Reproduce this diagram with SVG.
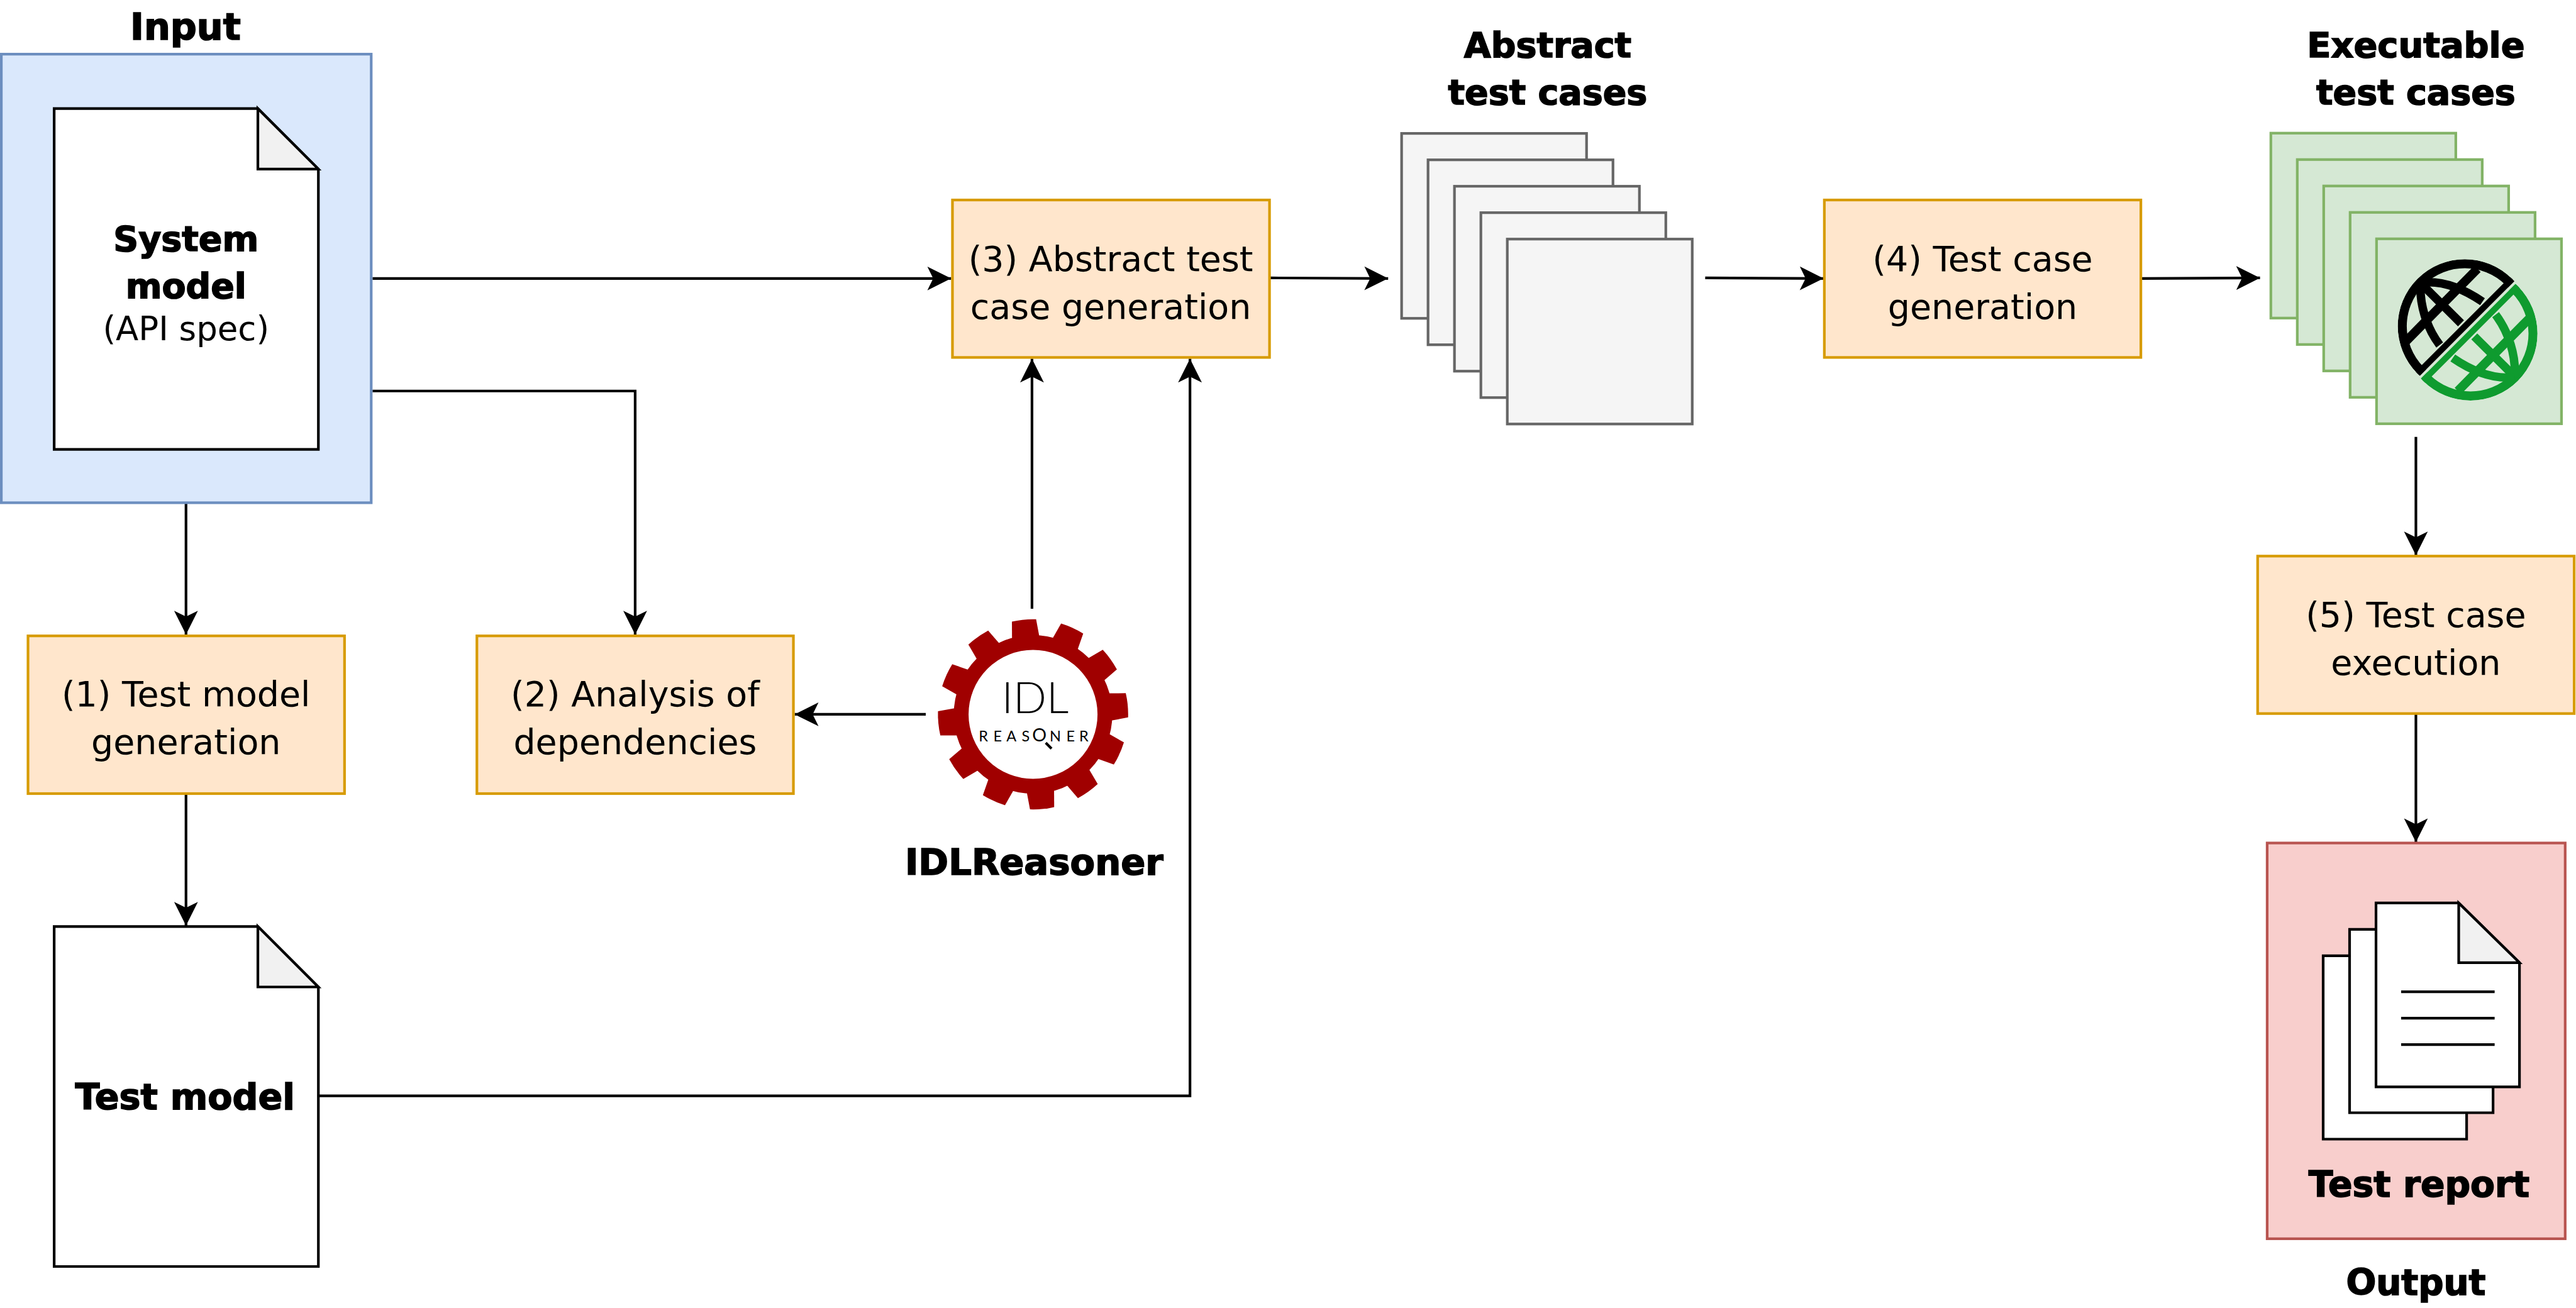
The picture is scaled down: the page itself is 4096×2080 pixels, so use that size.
<svg xmlns="http://www.w3.org/2000/svg" xmlns:xlink="http://www.w3.org/1999/xlink" width="4096" height="2080" viewBox="0 0 4096 2080">
<style>
text{font-family:"DejaVu Sans","Liberation Sans",sans-serif;fill:#000;text-anchor:middle}
.b{font-weight:700;font-size:66px;stroke:#000;stroke-width:2}
.t{font-size:66px}
.a{font-size:63px}
.task{fill:#ffe6cc;stroke:#d79b00;stroke-width:5}
.abs{fill:#f5f5f5;stroke:#666;stroke-width:5}
.exe{fill:#d5e8d4;stroke:#82b366;stroke-width:5}
.doc{fill:#fff;stroke:#000;stroke-width:5}
.fold{fill:#f1f1f1;stroke:#000;stroke-width:5}
.con{fill:none;stroke:#000;stroke-width:5;marker-end:url(#arr)}
.ln{stroke:#000;stroke-width:5}
.logo{font-family:Lato,"Open Sans",sans-serif}
</style>
<defs>
<marker id="arr" markerUnits="userSpaceOnUse" markerWidth="46" markerHeight="46" refX="45" refY="22.5" orient="auto" overflow="visible"><path d="M45 22.5 L0 0 L11 22.5 L0 45 Z" fill="#000"/></marker>
<path id="tooth" d="M145 -26 L178.5 -23 A180 180 0 0 1 178.5 23 L145 26 Z" fill="#a00000"/>
<clipPath id="halfclip"><path d="M4800 490.5L4500 790.5V450H4800Z"/></clipPath>
<clipPath id="discclip"><circle cx="4664.5" cy="617.4" r="126.8"/></clipPath>
<g id="half" clip-path="url(#halfclip)"><g clip-path="url(#discclip)" fill="none">
<circle cx="4664.5" cy="617.4" r="118.3" stroke-width="17"/>
<path stroke-width="14" d="M4762 522L4570 714"/>
<path stroke-width="17" d="M4552.9 646.2L4688.4 508.7"/>
<path stroke-width="16" d="M4578 533L4657.3 611.9"/>
<path stroke-width="16" d="M4581 534C4578 575 4592 620 4617 653"/>
<path stroke-width="16" d="M4581 535C4620 530 4660 545 4698 571"/>
</g></g>
</defs>
<g transform="scale(0.84021)">
<g id="connectors">
<path class="con" d="M705 527H1800"/>
<path class="con" d="M705 740H1202V1201"/>
<path class="con" d="M352 952V1201"/>
<path class="con" d="M352 1503V1752"/>
<path class="con" d="M603 2074H2252V679"/>
<path class="con" d="M1953 1152V679"/>
<path class="con" d="M1752 1352H1504"/>
<path class="con" d="M2403 526L2627 527"/>
<path class="con" d="M3227 526L3451 527"/>
<path class="con" d="M4051 527L4277 526"/>
<path class="con" d="M4572 827V1051"/>
<path class="con" d="M4572 1352V1594"/>
</g>
<g id="input">
<rect x="2.5" y="102.5" width="700" height="849" fill="#dae8fc" stroke="#6c8ebf" stroke-width="5"/>
<text class="b" style="font-size:70px" x="351" y="75">Input</text>
</g>
<g id="system-model">
<path class="doc" d="M102.5 205.5H488L602.5 320V850.5H102.5Z"/>
<path class="fold" d="M488 205.5V320H602.5Z"/>
<text class="b" x="352" y="475">System</text>
<text class="b" x="352" y="564">model</text>
<text class="a" x="352" y="644">(API spec)</text>
</g>
<g id="task1"><rect class="task" x="53" y="1203.5" width="599" height="298.5"/><text class="t" x="352" y="1337">(1) Test model</text><text class="t" x="352" y="1427">generation</text></g>
<g id="task2"><rect class="task" x="902.5" y="1203.5" width="599" height="298.5"/><text class="t" x="1202" y="1337">(2) Analysis of</text><text class="t" x="1202" y="1427">dependencies</text></g>
<g id="task3"><rect class="task" x="1802.5" y="378.5" width="600" height="298"/><text class="t" x="2102" y="513">(3) Abstract test</text><text class="t" x="2102" y="603">case generation</text></g>
<g id="task4"><rect class="task" x="3452.5" y="378.5" width="599" height="298"/><text class="t" x="3752" y="513">(4) Test case</text><text class="t" x="3752" y="603">generation</text></g>
<g id="task5"><rect class="task" x="4272.5" y="1052.5" width="599" height="298"/><text class="t" x="4572" y="1187">(5) Test case</text><text class="t" x="4572" y="1277">execution</text></g>
<g id="test-model">
<path class="doc" d="M102.5 1753.5H488L602.5 1868V2397H102.5Z"/>
<path class="fold" d="M488 1753.5V1868H602.5Z"/>
<text class="b" style="font-size:68px" x="350" y="2099">Test model</text>
</g>
<g id="abstract-test-cases">
<text class="b" x="2929" y="108">Abstract</text>
<text class="b" x="2929" y="198">test cases</text>
<rect class="abs" x="2652.5" y="252.5" width="350" height="350"/>
<rect class="abs" x="2702.5" y="302.5" width="350" height="350"/>
<rect class="abs" x="2752.5" y="352.5" width="350" height="350"/>
<rect class="abs" x="2802.5" y="402.5" width="350" height="350"/>
<rect class="abs" x="2852.5" y="452.5" width="350" height="350"/>
</g>
<g id="executable-test-cases">
<text class="b" style="font-size:66.5px" x="4572" y="108">Executable</text>
<text class="b" x="4572" y="198">test cases</text>
<rect class="exe" x="4297.5" y="252" width="350" height="350"/>
<rect class="exe" x="4347.5" y="302" width="350" height="350"/>
<rect class="exe" x="4397.5" y="352" width="350" height="350"/>
<rect class="exe" x="4447.5" y="402" width="350" height="350"/>
<rect class="exe" x="4497.5" y="452" width="350" height="350"/>
<use xlink:href="#half" href="#half" stroke="#000"/>
<use xlink:href="#half" href="#half" stroke="#0f9b2f" transform="rotate(180 4669.9 624.3)"/>
</g>
<g id="idlreasoner">
<circle cx="1955" cy="1352" r="136" fill="#fff" stroke="#a00000" stroke-width="28"/>
<g transform="translate(1955 1352)">
<use xlink:href="#tooth" href="#tooth" transform="rotate(-5.5)"/>
<use xlink:href="#tooth" href="#tooth" transform="rotate(24.5)"/>
<use xlink:href="#tooth" href="#tooth" transform="rotate(54.5)"/>
<use xlink:href="#tooth" href="#tooth" transform="rotate(84.5)"/>
<use xlink:href="#tooth" href="#tooth" transform="rotate(114.5)"/>
<use xlink:href="#tooth" href="#tooth" transform="rotate(144.5)"/>
<use xlink:href="#tooth" href="#tooth" transform="rotate(174.5)"/>
<use xlink:href="#tooth" href="#tooth" transform="rotate(204.5)"/>
<use xlink:href="#tooth" href="#tooth" transform="rotate(234.5)"/>
<use xlink:href="#tooth" href="#tooth" transform="rotate(264.5)"/>
<use xlink:href="#tooth" href="#tooth" transform="rotate(294.5)"/>
<use xlink:href="#tooth" href="#tooth" transform="rotate(324.5)"/>
</g>
<text class="logo" x="1959" y="1350" style="font-size:83px;font-weight:300">IDL</text>
<text class="logo" y="1403" x="1861 1888 1914 1941 1967 1997 2026 2051" style="font-size:28px">REAS<tspan font-size="34">O</tspan>NER</text>
<path d="M1979 1406L1990 1417" stroke="#000" stroke-width="5"/>
<text class="b" style="font-size:68.6px" x="1957" y="1656">IDLReasoner</text>
</g>
<g id="test-report">
<rect x="4290.5" y="1595.5" width="564" height="749" fill="#f8cecc" stroke="#b85450" stroke-width="5"/>
<path class="doc" d="M4396.5 1809H4553L4668 1922V2156H4396.5Z"/>
<path class="doc" d="M4446.5 1759H4603L4718 1872V2106H4446.5Z"/>
<path class="doc" d="M4496.5 1709H4653L4768 1822V2057H4496.5Z"/>
<path class="fold" d="M4653 1709V1822H4768Z"/>
<path class="ln" d="M4544 1877H4721M4544 1927H4721M4544 1977H4721"/>
<text class="b" style="font-size:67.5px" x="4578" y="2265">Test report</text>
</g>
<text id="output" class="b" style="font-size:67px" x="4572" y="2450">Output</text>
</g>
</svg>
